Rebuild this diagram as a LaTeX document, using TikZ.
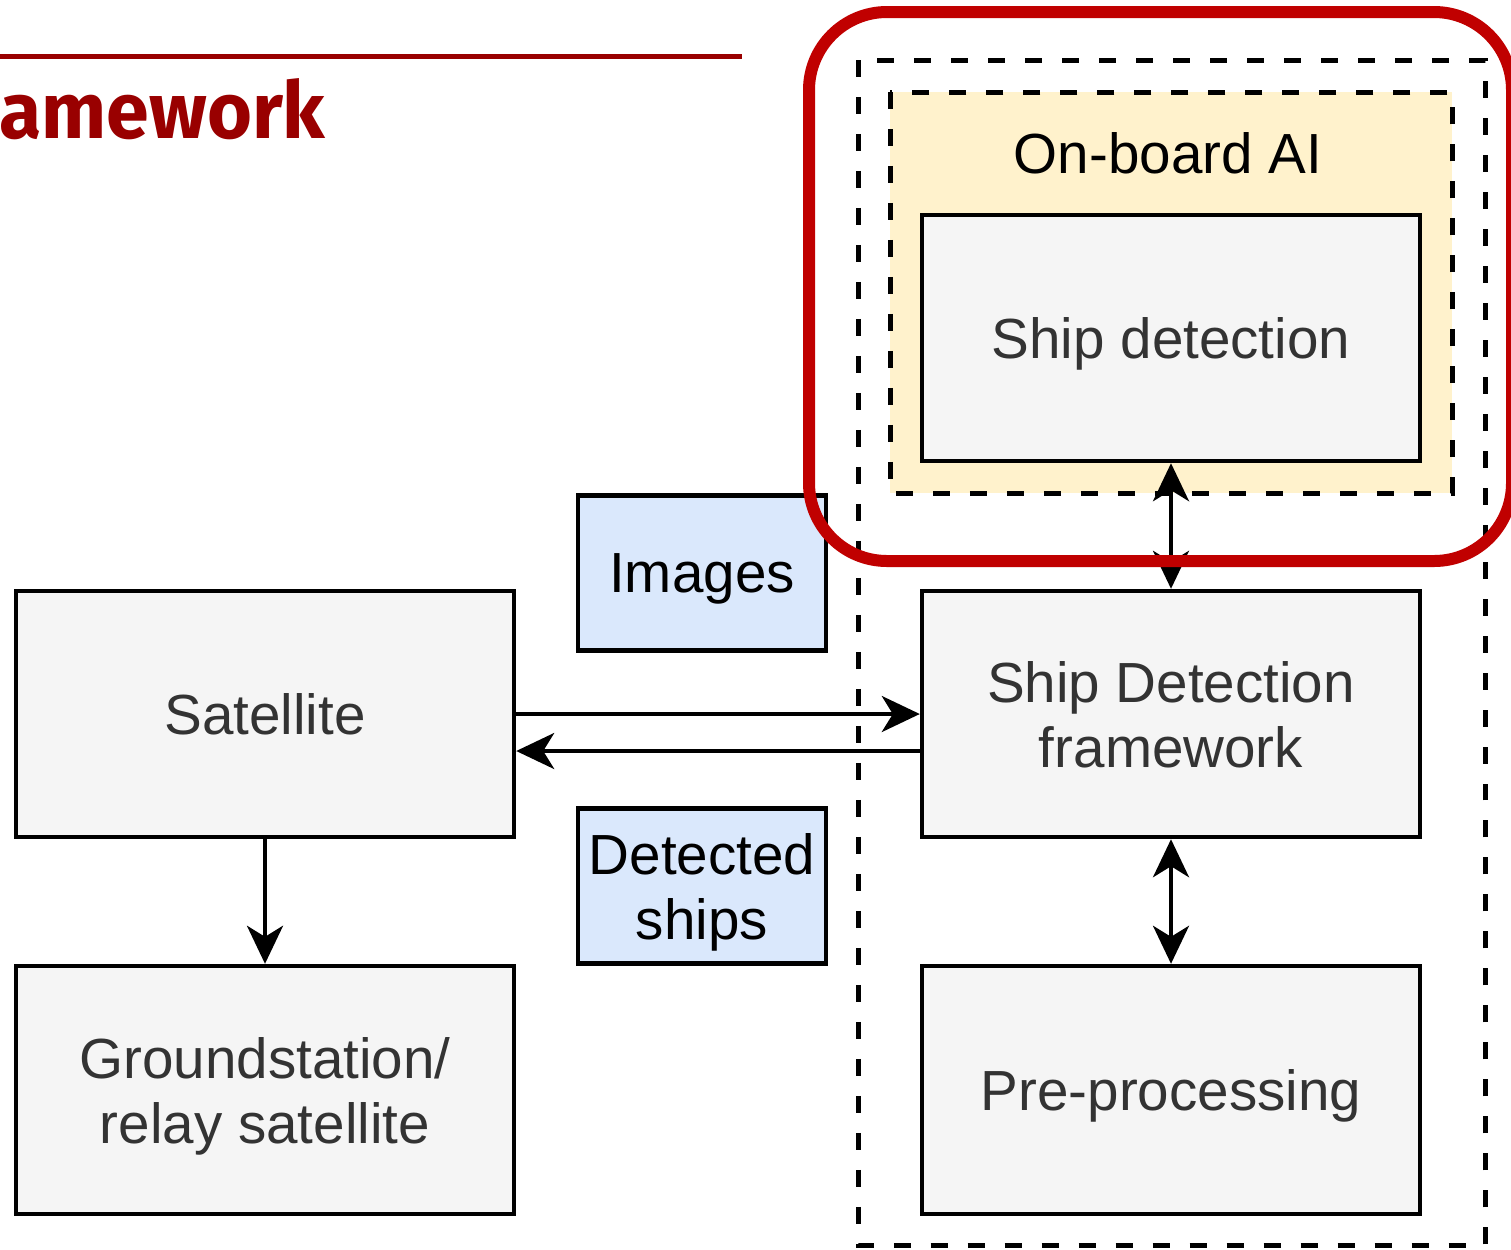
\documentclass[tikz,border=0pt]{standalone}
\usepackage{fontspec}
\setmainfont{Liberation Sans}
\newfontfamily\titlefont{Fira Sans}
\usetikzlibrary{arrows.meta}
\definecolor{boxgray}{HTML}{F5F5F5}
\definecolor{textgray}{HTML}{333333}
\definecolor{bluefill}{HTML}{DAE8FC}
\definecolor{yellowfill}{HTML}{FFF2CC}
\definecolor{framered}{HTML}{C00000}
\definecolor{titlered}{HTML}{990000}
\tikzset{
  mytip/.tip={Stealth[length=0.76cm,width=0.72cm,inset=0.22cm]},
  basebox/.style={draw=black, line width=0.09cm, inner sep=0pt, align=center, text depth=0pt,
    font=\fontsize{32.2}{37}\selectfont},
  graybox/.style={basebox, fill=boxgray, text=textgray, minimum width=9.96cm, minimum height=4.92cm},
  bluebox/.style={basebox, fill=bluefill, text=black, minimum width=4.96cm, minimum height=3.1cm},
  arr/.style={line width=0.08cm, -{mytip}},
  dblarr/.style={line width=0.08cm, {mytip}-{mytip}},
  dashbox/.style={line width=0.1cm, dash pattern=on 0.34cm off 0.4cm},
}
\begin{document}
\begin{tikzpicture}[x=0.02cm,y=-0.02cm]
\useasboundingbox (0,0) rectangle (1511,1249);
% title
\draw[titlered, line width=0.1cm] (0,56) -- (742,56);
\node[anchor=base west, inner sep=0pt, text=titlered, xscale=0.975,
  font=\titlefont\bfseries\fontsize{45}{50}\selectfont] (title) at (-1,138) {amework};
% containers
\draw[dashbox, fill=yellowfill] (890,92) rectangle (1452,493);
\draw[dashbox] (858,60) rectangle (1485,1245);
\node[inner sep=0pt, text depth=0pt, font=\fontsize{32.2}{37}\selectfont] (ai) at (1168,153) {On-board AI};
% boxes
\node[graybox] (sd) at (1171,338) {Ship detection};
\node[graybox] (sdf) at (1171,714) {Ship Detection\\framework};
\node[graybox, minimum height=4.96cm] (pre) at (1171,1090) {Pre-processing};
\node[graybox] (sat) at (265,714) {Satellite};
\node[graybox, minimum height=4.96cm] (gs) at (265,1090) {Groundstation/\\relay satellite};
\node[bluebox] (img) at (702,573) {Images};
\node[bluebox] (det) at (702,886) {Detected\\ships};
% connectors
\draw[arr] (sat.east) -- (sdf.west);
\draw[arr] ([yshift=-0.74cm]sdf.west) -- ([yshift=-0.74cm]sat.east);
\draw[arr] (sat.south) -- (gs.north);
\draw[dblarr] (sd.south) -- (sdf.north);
\draw[dblarr] (sdf.south) -- (pre.north);
% highlight
\draw[framered, line width=0.24cm, rounded corners=1.56cm] (809,12) rectangle (1512,561);
\end{tikzpicture}
\end{document}
